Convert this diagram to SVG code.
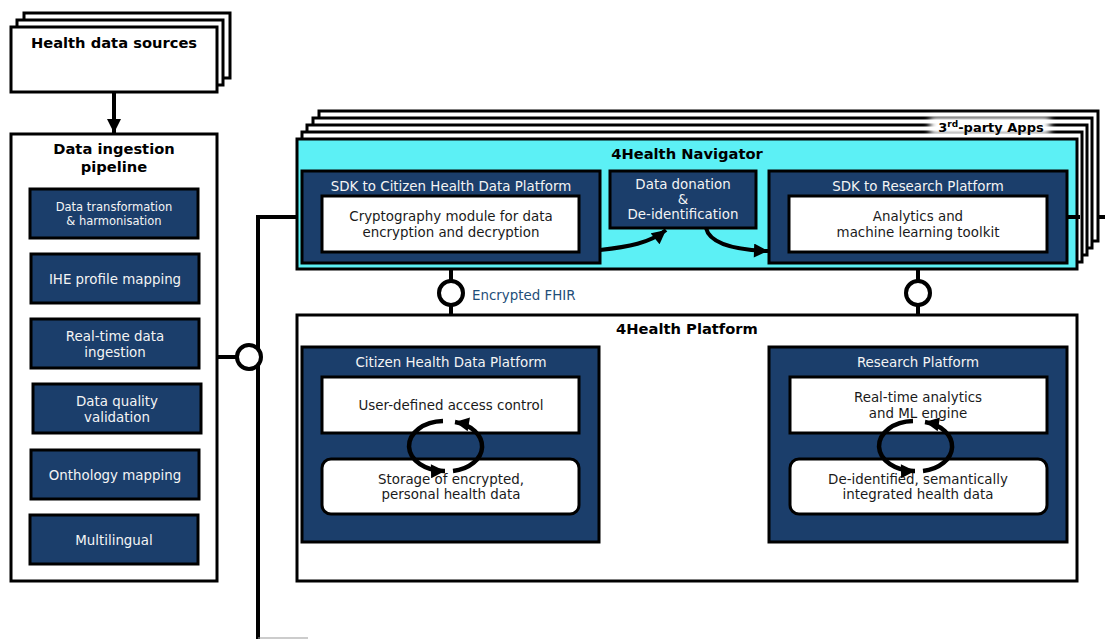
<svg xmlns="http://www.w3.org/2000/svg" width="1105" height="639" viewBox="0 0 1105 639">
<style>
text{font-family:"DejaVu Sans",Verdana,sans-serif;font-size:13.4px;text-anchor:middle;fill:#1a1a1a}
.b{font-weight:bold;fill:#000;font-size:14.7px}
.w{fill:#f4f4f4}
.sm{font-size:11.5px}
.box{fill:#fff;stroke:#000;stroke-width:3}
.dk{fill:#1b3e6b;stroke:#000;stroke-width:3}
.cy{fill:#5cf0f5;stroke:#000;stroke-width:3}
.ln{fill:none;stroke:#000;stroke-width:4}
.lp{fill:none;stroke:#000;stroke-width:4.5}
.ci{fill:#fff;stroke:#000;stroke-width:4}
</style>
<defs>
<marker id="ah" viewBox="0 0 10 10" refX="10" refY="5" markerUnits="userSpaceOnUse" markerWidth="14" markerHeight="14" orient="auto"><path d="M0,0L10,5L0,10z" fill="#000"/></marker>
<marker id="ah2" viewBox="0 0 10 10" refX="10" refY="5" markerUnits="userSpaceOnUse" markerWidth="15" markerHeight="14" orient="auto"><path d="M0,0L10,5L0,10z" fill="#000"/></marker>
<filter id="glow" x="-20%" y="-60%" width="140%" height="220%"><feGaussianBlur stdDeviation="3"/></filter>
</defs>

<g id="connectors">
<line class="ln" x1="258" y1="215" x2="258" y2="639"/>
<line class="ln" x1="256" y1="217" x2="302" y2="217"/>
<line class="ln" x1="217" y1="357" x2="240" y2="357"/>
<line x1="258" y1="638" x2="308" y2="638" stroke="#999" stroke-width="1"/>
<line class="ln" x1="1067" y1="217" x2="1105" y2="217"/>
<line class="ln" x1="114" y1="92" x2="114" y2="133" marker-end="url(#ah)"/>
<line class="ln" x1="451" y1="263" x2="451" y2="348"/>
<line class="ln" x1="918" y1="263" x2="918" y2="348"/>
</g>

<g id="health-data-sources">
<rect class="box" x="24" y="13" width="206" height="65"/>
<rect class="box" x="17" y="20" width="206" height="65"/>
<rect class="box" x="11" y="27" width="206" height="65"/>
<text class="b" x="114" y="48">Health data sources</text>
</g>

<g id="data-ingestion-pipeline">
<rect class="box" x="11" y="134" width="206" height="447"/>
<text class="b" x="114" y="154">Data ingestion</text>
<text class="b" x="114" y="172">pipeline</text>
</g>
<g id="data-transformation">
<rect class="dk" x="30" y="189" width="168" height="49"/>
<text class="w sm" x="114" y="211">Data transformation</text>
<text class="w sm" x="114" y="225">&amp; harmonisation</text>
</g>
<g id="ihe-profile-mapping">
<rect class="dk" x="31" y="254" width="168" height="49"/>
<text class="w" x="115" y="284">IHE profile mapping</text>
</g>
<g id="real-time-ingestion">
<rect class="dk" x="31" y="319" width="168" height="49"/>
<text class="w" x="115" y="341">Real-time data</text>
<text class="w" x="115" y="357">ingestion</text>
</g>
<g id="data-quality">
<rect class="dk" x="33" y="384" width="168" height="49"/>
<text class="w" x="117" y="406">Data quality</text>
<text class="w" x="117" y="422">validation</text>
</g>
<g id="onthology-mapping">
<rect class="dk" x="31" y="450" width="168" height="49"/>
<text class="w" x="115" y="480">Onthology mapping</text>
</g>
<g id="multilingual">
<rect class="dk" x="30" y="515" width="168" height="49"/>
<text class="w" x="114" y="545">Multilingual</text>
</g>

<g id="ingestion-interface">
<circle class="ci" cx="249" cy="357" r="12"/>
</g>

<g id="third-party-apps">
<rect class="box" x="319" y="111" width="779" height="130"/>
<rect class="box" x="313" y="118" width="779" height="130"/>
<rect class="box" x="307" y="125" width="780" height="130"/>
<rect class="box" x="302" y="132" width="780" height="130"/>
<rect x="930" y="117" width="120" height="18" fill="#fff" filter="url(#glow)"/>
<text class="b" x="991" y="132" style="font-size:13px">3<tspan font-size="9" baseline-shift="super">rd</tspan>-party Apps</text>
</g>

<g id="navigator">
<rect class="cy" x="297" y="139" width="780" height="130"/>
<text class="b" x="687" y="159">4Health Navigator</text>
<line class="ln" x1="1067" y1="217" x2="1080" y2="217"/>
</g>

<g id="sdk-citizen">
<rect class="dk" x="302" y="171" width="298" height="92"/>
<text class="w" x="451" y="191">SDK to Citizen Health Data Platform</text>
<rect class="box" x="322" y="196" width="257" height="56"/>
<text x="451" y="221">Cryptography module for data</text>
<text x="451" y="237">encryption and decryption</text>
</g>

<g id="data-donation">
<rect class="dk" x="610" y="171" width="146" height="57"/>
<text class="w" x="683" y="189">Data donation</text>
<text class="w" x="683" y="204">&amp;</text>
<text class="w" x="683" y="219">De-identification</text>
</g>

<g id="sdk-research">
<rect class="dk" x="769" y="171" width="298" height="92"/>
<text class="w" x="918" y="191">SDK to Research Platform</text>
<rect class="box" x="789" y="196" width="258" height="56"/>
<text x="918" y="221">Analytics and</text>
<text x="918" y="237">machine learning toolkit</text>
</g>

<g id="flow-arrows">
<path class="ln" d="M600,250 C628,247 650,243 666,230" marker-end="url(#ah2)"/>
<path class="ln" d="M706,228 C710,245 738,250 768,251" marker-end="url(#ah2)"/>
</g>

<g id="fhir-interfaces">
<circle class="ci" cx="451" cy="293" r="12"/>
<text x="472" y="300" style="text-anchor:start;fill:#1f4e79">Encrypted FHIR</text>
<circle class="ci" cx="918" cy="293" r="12"/>
</g>

<g id="platform">
<rect class="box" x="297" y="315" width="780" height="266" fill="none"/>
<text class="b" x="687" y="334">4Health Platform</text>
</g>

<g id="citizen-platform">
<rect class="dk" x="302" y="347" width="297" height="195"/>
<text class="w" x="451" y="367">Citizen Health Data Platform</text>
<rect class="box" x="322" y="377" width="257" height="56"/>
<text x="451" y="410">User-defined access control</text>
<rect class="box" x="322" y="459" width="257" height="55" rx="9"/>
<text x="451" y="484">Storage of encrypted,</text>
<text x="451" y="499">personal health data</text>
<path class="lp" d="M443,421 A35,25 0 0 0 445,471" marker-end="url(#ah2)"/>
<path class="lp" d="M453,471 A35,25 0 0 0 455,422" marker-end="url(#ah2)"/>
</g>

<g id="research-platform">
<rect class="dk" x="769" y="347" width="298" height="195"/>
<text class="w" x="918" y="367">Research Platform</text>
<rect class="box" x="790" y="377" width="257" height="56"/>
<text x="918" y="402">Real-time analytics</text>
<text x="918" y="418">and ML engine</text>
<rect class="box" x="790" y="459" width="257" height="55" rx="9"/>
<text x="918" y="484">De-identified, semantically</text>
<text x="918" y="499">integrated health data</text>
<path class="lp" d="M913,421 A35,25 0 0 0 915,471" marker-end="url(#ah2)"/>
<path class="lp" d="M923,471 A35,25 0 0 0 925,422" marker-end="url(#ah2)"/>
</g>
</svg>
